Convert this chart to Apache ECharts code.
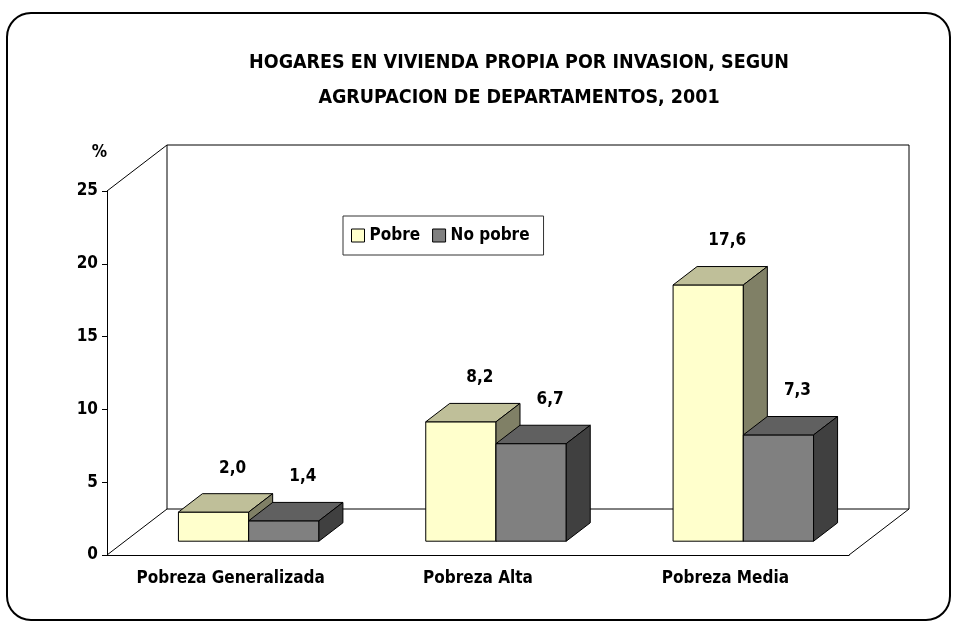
<!DOCTYPE html>
<html>
<head>
<meta charset="utf-8">
<script src="https://cdn.jsdelivr.net/npm/echarts@6/dist/echarts.min.js"></script>
<style>
  html, body { margin: 0; padding: 0; background: #fff; }
  #chart { width: 957px; height: 627px; }
</style>
</head>
<body>
<div id="chart"></div>
<script>
// data
var categories = ["Pobreza Generalizada", "Pobreza Alta", "Pobreza Media"];
var pobre = [2.0, 8.2, 17.6];
var noPobre = [1.4, 6.7, 7.3];
var seriesNames = ["Pobre", "No pobre"];

var FONT = "'Liberation Sans Narrow', 'DejaVu Sans Condensed', 'Liberation Sans', sans-serif";
// 3d depth of the walls (px) and bar placement inside it
var DEPTH = [60, -46];
var BAR_FRONT = 0.3, BAR_DEPTH = 0.4;

var faces = [
  { front: "#FFFFCC", top: "#BFBF99", side: "#808066" },
  { front: "#808080", top: "#606060", side: "#404040" }
];

function fmt(v) {
  return v.toFixed(1).replace(".", ",");
}

function barRenderer(side) {
  var c = faces[side];
  return function (params, api) {
    var i = api.value(0), v = api.value(1);
    var base = api.coord([i, 0]);
    var top = api.coord([i, v]);
    var band = api.size([1, 0])[0];
    var bw = band * 0.284;
    var fx = DEPTH[0] * BAR_FRONT, fy = DEPTH[1] * BAR_FRONT;
    var dx = DEPTH[0] * BAR_DEPTH, dy = DEPTH[1] * BAR_DEPTH;
    var x0 = base[0] + fx + (side === 0 ? -bw : 0);
    var x1 = x0 + bw;
    var yb = base[1] + fy, yt = top[1] + fy;
    var stroke = { stroke: "#000", lineWidth: 1 };
    return {
      type: "group",
      children: [
        { type: "rect", shape: { x: x0, y: yt, width: bw, height: yb - yt },
          style: Object.assign({ fill: c.front }, stroke) },
        { type: "polygon", shape: { points: [[x0, yt], [x0 + dx, yt + dy], [x1 + dx, yt + dy], [x1, yt]] },
          style: Object.assign({ fill: c.top }, stroke) },
        { type: "polygon", shape: { points: [[x1, yt], [x1 + dx, yt + dy], [x1 + dx, yb + dy], [x1, yb]] },
          style: Object.assign({ fill: c.side }, stroke) },
        { type: "text", x: (x0 + x1) / 2 + 19, y: yt - 44,
          style: { text: fmt(v), fill: "#000", font: "bold 17px " + FONT, align: "center", verticalAlign: "middle" } }
      ]
    };
  };
}

function wallRenderer(params, api) {
  var band = api.size([1, 0])[0];
  var left = api.coord([0, 0])[0] - band / 2;
  var right = api.coord([categories.length - 1, 0])[0] + band / 2;
  var y0 = api.coord([0, 0])[1];
  var y1 = api.coord([0, 25])[1];
  var dx = DEPTH[0], dy = DEPTH[1];
  var ls = { stroke: "#000", lineWidth: 1 };
  return {
    type: "group",
    children: [
      { type: "rect", shape: { x: left + dx, y: y1 + dy, width: right - left, height: y0 - y1 },
        style: { fill: "#fff", stroke: "#000", lineWidth: 1 } },
      { type: "line", shape: { x1: left, y1: y1, x2: left + dx, y2: y1 + dy }, style: ls },
      { type: "line", shape: { x1: left, y1: y0, x2: left + dx, y2: y0 + dy }, style: ls },
      { type: "line", shape: { x1: right, y1: y0, x2: right + dx, y2: y0 + dy }, style: ls }
    ]
  };
}

var chart = echarts.init(document.getElementById("chart"));
var option = {
  backgroundColor: "#fff",
  animation: false,
  textStyle: { fontFamily: FONT },
  title: {
    text: "HOGARES EN VIVIENDA PROPIA POR INVASION, SEGUN\nAGRUPACION DE DEPARTAMENTOS, 2001",
    left: 519,
    top: 45,
    padding: 0,
    textAlign: "center",
    textStyle: { fontFamily: FONT, fontWeight: "bold", fontSize: 19.5, lineHeight: 35, color: "#000" }
  },
  legend: {
    data: seriesNames,
    left: 343,
    top: 216,
    orient: "horizontal",
    padding: [11, 14, 11, 8],
    itemWidth: 13,
    itemHeight: 13,
    itemGap: 12,
    borderColor: "#333",
    borderWidth: 1,
    icon: "rect",
    itemStyle: { borderColor: "#000", borderWidth: 1 },
    textStyle: { fontFamily: FONT, fontWeight: "bold", fontSize: 17, color: "#000" }
  },
  graphic: [
    { type: "rect", shape: { x: 7, y: 13, width: 943, height: 607, r: 24 },
      style: { fill: "none", stroke: "#000", lineWidth: 2 }, z: 100 }
  ],
  grid: { left: 107, right: 108, top: 191, bottom: 72 },
  xAxis: {
    type: "category",
    data: categories,
    boundaryGap: true,
    axisLine: { lineStyle: { color: "#000", width: 1 } },
    axisTick: { length: 7, lineStyle: { color: "#000" } },
    axisLabel: { margin: 15, color: "#000", fontWeight: "bold", fontSize: 17, fontFamily: FONT },
    z: 10
  },
  yAxis: {
    type: "value",
    min: 0,
    max: 25,
    interval: 5,
    name: "%",
    nameLocation: "end",
    nameGap: 30,
    nameTextStyle: { align: "right", color: "#000", fontWeight: "bold", fontSize: 17, fontFamily: FONT },
    axisLine: { show: true, lineStyle: { color: "#000", width: 1 } },
    axisTick: { show: true, length: 5, lineStyle: { color: "#000" } },
    axisLabel: { margin: 9, color: "#000", fontWeight: "bold", fontSize: 17, fontFamily: FONT },
    splitLine: { show: false },
    z: 10
  },
  series: [
    {
      type: "custom",
      name: "walls",
      silent: true,
      z: 1,
      renderItem: wallRenderer,
      data: [[0, 0]]
    },
    {
      type: "custom",
      name: seriesNames[0],
      z: 2,
      itemStyle: { color: faces[0].front, borderColor: "#000" },
      renderItem: barRenderer(0),
      data: pobre.map(function (v, i) { return [i, v]; })
    },
    {
      type: "custom",
      name: seriesNames[1],
      z: 3,
      itemStyle: { color: faces[1].front, borderColor: "#000" },
      renderItem: barRenderer(1),
      data: noPobre.map(function (v, i) { return [i, v]; })
    }
  ]
};
chart.setOption(option);
</script>
</body>
</html>
